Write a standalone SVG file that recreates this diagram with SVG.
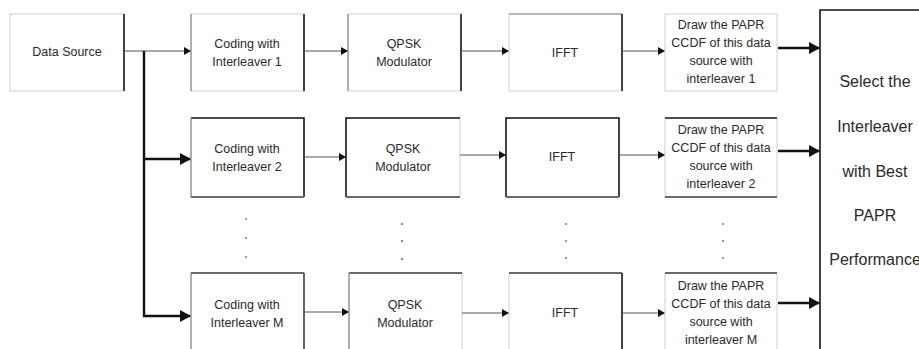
<svg xmlns="http://www.w3.org/2000/svg" width="919" height="349" viewBox="0 0 919 349">
<style>
.box{fill:#fff;stroke:#cfcfcf;stroke-width:1}
.dk{fill:none;stroke:#1a1a1a;stroke-width:1.6}
.gr{fill:none;stroke:#6a6a6a;stroke-width:2}
.lg{fill:none;stroke:#8a8a8a;stroke-width:1.2}
.t{font-family:"Liberation Sans",Arial,sans-serif;font-size:12.5px;fill:#2a2a2a;text-anchor:middle}
.s{font-family:"Liberation Sans",Arial,sans-serif;font-size:16px;fill:#2a2a2a;text-anchor:middle}
.thin{fill:none;stroke:#555;stroke-width:1}
.thick{fill:none;stroke:#111;stroke-width:2.4}
.dot{fill:#666}
</style>
<defs>
<marker id="a" markerWidth="7" markerHeight="8" refX="6" refY="4" orient="auto" markerUnits="userSpaceOnUse"><path d="M0,0 L7,4 L0,8 Z" fill="#111"/></marker>
<marker id="b" markerWidth="11" markerHeight="12" refX="10" refY="6" orient="auto" markerUnits="userSpaceOnUse"><path d="M0,0 L11,6 L0,12 Z" fill="#111"/></marker>
</defs>

<g id="data-source">
<rect class="box" x="10" y="14" width="114" height="77"/>
<path class="dk" d="M124,14 V91"/>
<text class="t" x="67" y="56">Data Source</text>
</g>

<g id="coding-1">
<rect class="box" x="191" y="14" width="113" height="77"/>
<path class="lg" d="M191,14 V91"/><path class="dk" d="M304,14 V91"/>
<text class="t" x="247" y="48">Coding with</text>
<text class="t" x="247" y="66">Interleaver 1</text>
</g>
<g id="qpsk-1">
<rect class="box" x="348" y="14" width="113" height="77"/>
<path class="lg" d="M348,14 V91"/><path class="dk" d="M461,14 V91"/>
<text class="t" x="404" y="48">QPSK</text>
<text class="t" x="404" y="66">Modulator</text>
</g>
<g id="ifft-1">
<rect class="box" x="509" y="14" width="113" height="77"/>
<path class="lg" d="M509,14 H622"/><path class="dk" d="M622,14 V91"/>
<text class="t" x="565" y="57">IFFT</text>
</g>
<g id="draw-1">
<rect class="box" x="665" y="14" width="112" height="77"/>
<text class="t" x="721" y="29">Draw the PAPR</text>
<text class="t" x="721" y="47">CCDF of this data</text>
<text class="t" x="721" y="65">source with</text>
<text class="t" x="721" y="83">interleaver 1</text>
</g>

<g id="coding-2">
<rect class="box" x="191" y="118" width="113" height="79"/>
<path class="dk" d="M191,118 H304 V197"/><path class="lg" d="M191,118 V197"/><path class="gr" d="M191,197 H304"/>
<text class="t" x="247" y="153">Coding with</text>
<text class="t" x="247" y="171">Interleaver 2</text>
</g>
<g id="qpsk-2">
<rect class="box" x="346" y="118" width="114" height="79"/>
<path class="dk" d="M346,197 V118 H460"/><path class="gr" d="M346,197 H460"/>
<text class="t" x="403" y="153">QPSK</text>
<text class="t" x="403" y="171">Modulator</text>
</g>
<g id="ifft-2">
<rect class="box" x="506" y="118" width="113" height="79"/>
<path class="dk" d="M506,197 V118 H619 V197"/><path class="gr" d="M506,197 H619"/>
<text class="t" x="562" y="161">IFFT</text>
</g>
<g id="draw-2">
<rect class="box" x="665" y="118" width="112" height="79"/>
<path class="dk" d="M665,118 H777"/><path class="gr" d="M665,197 H777"/>
<text class="t" x="721" y="134">Draw the PAPR</text>
<text class="t" x="721" y="152">CCDF of this data</text>
<text class="t" x="721" y="170">source with</text>
<text class="t" x="721" y="188">interleaver 2</text>
</g>

<g id="coding-m">
<rect class="box" x="191" y="273" width="113" height="80"/>
<path class="lg" d="M191,273 V353"/><path class="gr" d="M191,273 H304"/><path class="lg" d="M304,273 V353" style="stroke:#444;stroke-width:1.6"/>
<text class="t" x="247" y="309">Coding with</text>
<text class="t" x="247" y="327">Interleaver M</text>
</g>
<g id="qpsk-m">
<rect class="box" x="349" y="273" width="113" height="80"/>
<path class="lg" d="M349,273 V353"/><path class="gr" d="M349,273 H462"/>
<text class="t" x="405" y="309">QPSK</text>
<text class="t" x="405" y="327">Modulator</text>
</g>
<g id="ifft-m">
<rect class="box" x="509" y="273" width="113" height="80"/>
<path class="gr" d="M509,273 H622"/><path class="dk" d="M622,273 V353"/>
<text class="t" x="565" y="317">IFFT</text>
</g>
<g id="draw-m">
<rect class="box" x="665" y="273" width="112" height="80"/>
<path class="gr" d="M665,273 H777"/>
<text class="t" x="721" y="290">Draw the PAPR</text>
<text class="t" x="721" y="308">CCDF of this data</text>
<text class="t" x="721" y="326">source with</text>
<text class="t" x="721" y="344">interleaver M</text>
</g>

<g id="select">
<rect class="box" x="820" y="10" width="110" height="350"/>
<path class="dk" d="M820,360 V10 H930"/>
<text class="s" x="875" y="87">Select the</text>
<text class="s" x="875" y="132">Interleaver</text>
<text class="s" x="875" y="177">with Best</text>
<text class="s" x="875" y="221">PAPR</text>
<text class="s" x="875" y="265">Performance</text>
</g>

<g id="dots">
<circle class="dot" cx="246" cy="219" r="0.9"/><circle class="dot" cx="246" cy="238" r="0.9"/><circle class="dot" cx="246" cy="257" r="0.9"/>
<circle class="dot" cx="402" cy="224" r="1.1"/><circle class="dot" cx="402" cy="241" r="1.1"/><circle class="dot" cx="402" cy="259" r="1.1"/>
<circle class="dot" cx="566" cy="224" r="0.9"/><circle class="dot" cx="566" cy="241" r="0.9"/><circle class="dot" cx="566" cy="258" r="0.9"/>
<circle class="dot" cx="723" cy="224" r="0.9"/><circle class="dot" cx="723" cy="241" r="0.9"/><circle class="dot" cx="723" cy="258" r="0.9"/>
</g>

<g id="connectors">
<path class="thin" d="M124,51 H190" marker-end="url(#a)"/>
<path class="thick" d="M144,51 V316 H190" marker-end="url(#b)"/>
<path class="thick" d="M144,159 H190" marker-end="url(#b)"/>
<path class="thin" d="M304,51 H347" marker-end="url(#a)"/>
<path class="thin" d="M461,51 H508" marker-end="url(#a)"/>
<path class="thin" d="M622,51 H664" marker-end="url(#a)"/>
<path class="thick" d="M778,48 H819" marker-end="url(#b)"/>
<path class="thin" d="M304,157 H345" marker-end="url(#a)"/>
<path class="thin" d="M460,155 H505" marker-end="url(#a)"/>
<path class="thin" d="M619,155 H664" marker-end="url(#a)"/>
<path class="thick" d="M778,151 H819" marker-end="url(#b)"/>
<path class="thin" d="M304,312 H348" marker-end="url(#a)"/>
<path class="thin" d="M462,313 H508" marker-end="url(#a)"/>
<path class="thin" d="M622,313 H664" marker-end="url(#a)"/>
<path class="thick" d="M778,303 H819" marker-end="url(#b)"/>
</g>
</svg>
